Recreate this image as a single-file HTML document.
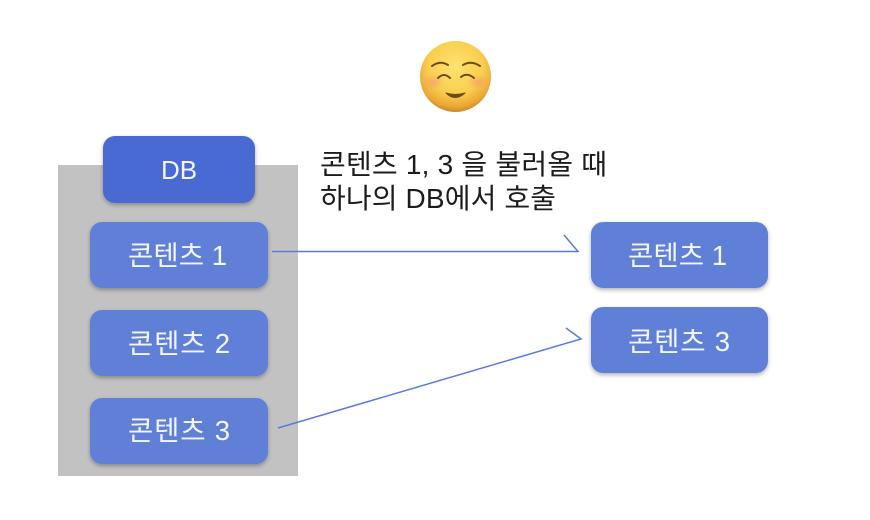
<!DOCTYPE html>
<html lang="ko">
<head>
<meta charset="utf-8">
<style>
html,body{margin:0;padding:0;background:#fff;width:870px;height:520px;overflow:hidden}
svg{display:block}
text{font-family:"Liberation Sans","Noto Sans CJK KR",sans-serif}
.w{fill:#f4f6fc;font-size:27.5px;font-weight:400}
.d{fill:#f4f6fc;font-size:26px;text-anchor:middle}
.k{fill:#1c1c1c;font-size:28px}
</style>
</head>
<body>
<svg width="870" height="520" viewBox="0 0 870 520" xmlns="http://www.w3.org/2000/svg">
<defs>
<filter id="s" x="-10%" y="-15%" width="120%" height="135%">
<feDropShadow dx="0" dy="2" stdDeviation="2" flood-color="#000" flood-opacity="0.3"/>
</filter>
<filter id="b" x="-5%" y="-20%" width="110%" height="140%">
<feGaussianBlur stdDeviation="0.35"/>
</filter>
<radialGradient id="f" cx="50%" cy="36%" r="64%">
<stop offset="0" stop-color="#fde36f"/>
<stop offset="0.6" stop-color="#f8cf50"/>
<stop offset="0.88" stop-color="#eba834"/>
<stop offset="1" stop-color="#c98a30"/>
</radialGradient>
<radialGradient id="c">
<stop offset="0" stop-color="#f59a6c" stop-opacity="0.7"/>
<stop offset="1" stop-color="#f59a6c" stop-opacity="0"/>
</radialGradient>
</defs>

<rect x="58" y="165" width="240" height="311" fill="#c2c2c2"/>

<rect x="103" y="136" width="152" height="67" rx="12" fill="#4a6bd3" filter="url(#s)"/>
<rect x="90" y="222" width="178" height="66" rx="12" fill="#6180d8" filter="url(#s)"/>
<rect x="90" y="310" width="178" height="66" rx="12" fill="#6180d8" filter="url(#s)"/>
<rect x="90" y="398" width="178" height="66" rx="12" fill="#6180d8" filter="url(#s)"/>
<rect x="591" y="222" width="177" height="66" rx="12" fill="#6180d8" filter="url(#s)"/>
<rect x="591" y="307" width="177" height="66" rx="12" fill="#6180d8" filter="url(#s)"/>

<g filter="url(#b)">
<text class="d" x="179" y="179">DB</text>
<text class="w" x="128" y="265" textLength="99">콘텐츠 1</text>
<text class="w" x="128" y="353" textLength="102">콘텐츠 2</text>
<text class="w" x="128" y="440" textLength="102">콘텐츠 3</text>
<text class="w" x="628" y="265" textLength="99">콘텐츠 1</text>
<text class="w" x="628" y="351" textLength="102">콘텐츠 3</text>
<text class="k" x="320" y="174" textLength="287">콘텐츠 1, 3 을 불러올 때</text>
<text class="k" x="320" y="208" textLength="236">하나의 DB에서 호출</text>
</g>

<g fill="none" stroke="#5b7bdc" stroke-width="1.500">
<path d="M272 251.500H578L564 235"/>
<path d="M278 428L581 339L566 328"/>
</g>

<circle cx="455.500" cy="76.500" r="35.500" fill="url(#f)"/>
<ellipse cx="433" cy="82" rx="11" ry="8" fill="url(#c)"/>
<ellipse cx="478" cy="82" rx="11" ry="8" fill="url(#c)"/>
<g fill="none" stroke="#6e4a1c" stroke-width="2" stroke-linecap="round">
<path d="M432 66Q440 60 448 65"/>
<path d="M463 65Q471 60 480 66"/>
<path d="M438 78Q444 72 450 78"/>
<path d="M461 77Q467 72 474 78"/>
</g>
<path d="M446 93Q455 96 465 93Q455 102 446 93Z" fill="#6e4a1c" stroke="#6e4a1c" stroke-width="1" stroke-linejoin="round"/>
</svg>
</body>
</html>
